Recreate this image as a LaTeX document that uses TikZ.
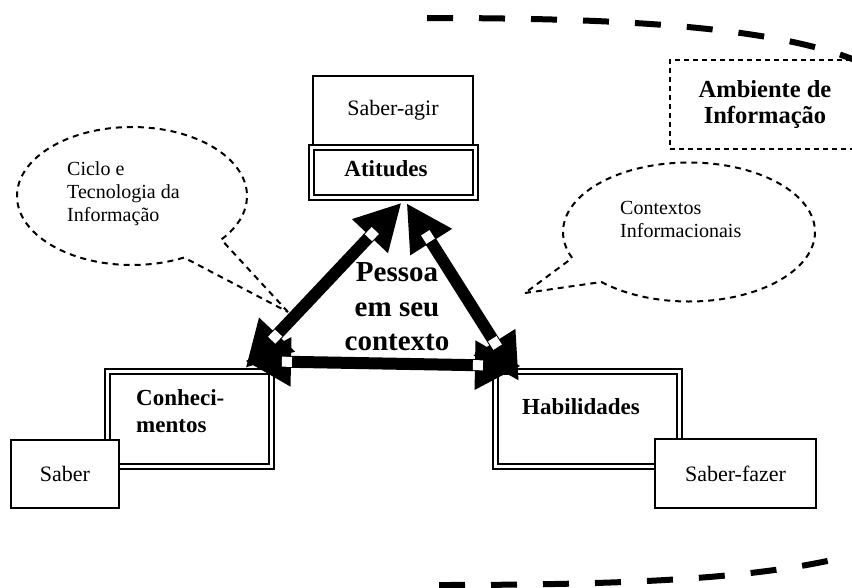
\documentclass[tikz,border=0pt]{standalone}
\usepackage{fontspec}
\setmainfont{Liberation Serif}
\usetikzlibrary{arrows.meta, shapes.callouts}

\newcommand{\regfont}{\fontsize{22}{24}\selectfont}
\newcommand{\bubfont}{\fontsize{20}{23}\selectfont}
\newcommand{\boxfont}{\fontsize{23}{27}\selectfont\bfseries}
\newcommand{\ambfont}{\fontsize{24.5}{26}\selectfont\bfseries}
\newcommand{\bigfont}{\fontsize{29}{34.5}\selectfont\bfseries}

\tikzset{
  box/.style={draw, line width=2pt, fill=white, inner sep=0pt, font=\regfont},
  dbox/.style={draw, line width=2pt, double, double distance=3pt, fill=white, inner sep=0pt},
  bubble/.style={ellipse callout, draw, line width=2pt, dash pattern=on 6pt off 5pt, inner sep=0pt, callout pointer arc=24},
  link/.style={line width=12pt, {Triangle[length=46pt, width=46pt]}-{Triangle[length=46pt, width=46pt]}},
  sq/.style={fill=white, inner sep=0pt, minimum size=10pt, sloped},
  bigdash/.style={line width=6pt, dash pattern=on 26pt off 26pt},
}

\begin{document}
\begin{tikzpicture}[x=1pt, y=-1pt]

\useasboundingbox (0, 0) rectangle (852, 587);
\clip (0, 0) rectangle (852, 587);

% Environment
\draw[bigdash] (427, 18) .. controls (620, 18) and (800, 26) .. (880, 72);
\draw[bigdash] (439, 585) .. controls (640, 585) and (780, 578) .. (870, 550);
\node[draw, line width=2pt, dash pattern=on 5pt off 4pt, minimum width=190pt, minimum height=89pt, align=center, font=\ambfont] (amb) at (765, 104.5) {Ambiente de\\Informação};

% Bubbles
\node[bubble, minimum width=230pt, minimum height=138pt, callout absolute pointer={(288, 312)}] (ciclo) at (132, 196) {};
\node[anchor=west, align=left, inner sep=0pt, font=\bubfont] (ciclotxt) at (67, 194) {Ciclo e\\Tecnologia da\\Informação};

\node[bubble, minimum width=252pt, minimum height=139pt, callout absolute pointer={(525, 293)}] (ctx) at (689, 232) {};
\node[anchor=west, align=left, inner sep=0pt, font=\bubfont] (ctxtxt) at (620, 219) {Contextos\\Informacionais};

% Boxes
\node[box, minimum width=160pt, minimum height=69pt] (sagir) at (393, 110.5) {Saber-agir};
\node[dbox, minimum width=164pt, minimum height=50pt] (atit) at (393.5, 172.5) {};
\node[inner sep=0pt, font=\boxfont] (atittxt) at (386, 169) {Atitudes};

\node[dbox, minimum width=164pt, minimum height=95pt] (conh) at (189.5, 419) {};
\node[anchor=west, align=left, inner sep=0pt, font=\boxfont] (conhtxt) at (136, 411.5) {Conheci-\\mentos};
\node[box, minimum width=108pt, minimum height=68pt] (saber) at (65, 474) {Saber};

\node[dbox, minimum width=184pt, minimum height=95pt] (hab) at (587.5, 419) {};
\node[inner sep=0pt, font=\boxfont] (habtxt) at (581, 407) {Habilidades};
\node[box, minimum width=161pt, minimum height=69pt] (sfazer) at (735.5, 473.5) {Saber-fazer};

% Arrows
\coordinate (atl) at (401.5, 202.7);
\coordinate (atr) at (406.6, 203.2);
\coordinate (cot) at (245.5, 368);
\coordinate (cor) at (245, 361);
\coordinate (hat) at (519, 381);
\coordinate (hal) at (521, 366);

\draw[link] (atl) -- (cot) node[sq, pos=0.19] {} node[sq, pos=0.81] {};
\draw[link] (atr) -- (hat) node[sq, pos=0.19] {} node[sq, pos=0.786] {};
\draw[link] (cor) -- (hal) node[sq, pos=0.152] {} node[sq, pos=0.844] {};

% Center
\node[align=center, inner sep=0pt, font=\bigfont] (pessoa) at (397, 307) {Pessoa\\em seu\\contexto};

\end{tikzpicture}
\end{document}
